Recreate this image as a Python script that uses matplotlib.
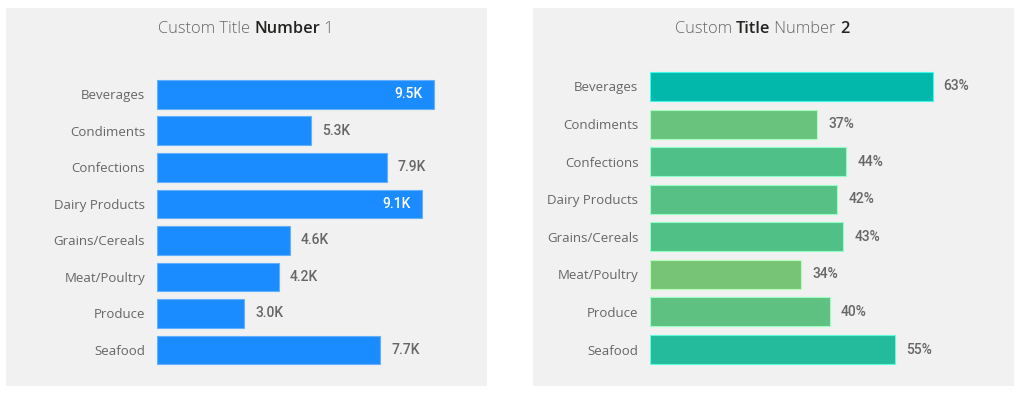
import matplotlib
matplotlib.use("Agg")
import matplotlib.pyplot as plt
from matplotlib.patches import Rectangle
from matplotlib.offsetbox import TextArea, HPacker, AnnotationBbox
from matplotlib.colors import LinearSegmentedColormap, Normalize

categorias = ["Beverages", "Condiments", "Confections", "Dairy Products",
              "Grains/Cereals", "Meat/Poultry", "Produce", "Seafood"]
ventas = [9532, 5298, 7906, 9112, 4577, 4199, 3002, 7681]
margen = [0.630, 0.372, 0.437, 0.417, 0.431, 0.337, 0.400, 0.546]
etiquetas_dentro = ["Beverages", "Dairy Products"]

FONDO = "#f1f1f1"
GRIS = "#666666"
OSCURO = "#252423"
AZUL = "#1a8cff"

W, H = 1024, 395
fig = plt.figure(figsize=(W / 100, H / 100), dpi=100)
fig.patch.set_facecolor("white")


def fx(px):
    return px / W


def fy(py):
    # py medido desde arriba
    return 1 - py / H


# paneles grises de fondo
for x0, x1 in [(6, 487), (533, 1014)]:
    fig.patches.append(Rectangle((fx(x0), fy(386)), fx(x1 - x0), (386 - 8) / H,
                                 transform=fig.transFigure, facecolor=FONDO,
                                 edgecolor="none", zorder=-10))


def titulo(partes, cx):
    cajas = [TextArea(t, textprops=dict(color=c, fontsize=11.8, family="Open Sans",
                                        weight=w)) for t, c, w in partes]
    caja = HPacker(children=cajas, pad=0, sep=0, align="baseline")
    ab = AnnotationBbox(caja, (fx(cx), fy(29)), xycoords="figure fraction",
                        frameon=False, box_alignment=(0.5, 0.5))
    fig.add_artist(ab)


titulo([("Custom Title ", GRIS, "light"), ("Number", OSCURO, "semibold"),
        (" 1", GRIS, "light")], 246)
titulo([("Custom ", GRIS, "light"), ("Title", OSCURO, "semibold"),
        (" Number ", GRIS, "light"), ("2", OSCURO, "semibold")], 762)


def preparar(ax):
    ax.set_facecolor("none")
    for s in ax.spines.values():
        s.set_visible(False)
    ax.set_xticks([])
    ax.set_yticks(range(len(categorias)))
    ax.set_yticklabels(categorias, color=GRIS, fontsize=9.5, family="Open Sans")
    ax.tick_params(axis="y", length=0, pad=8.5)
    ax.set_ylim(len(categorias) - 0.5, -0.5)


# ---- panel 1: ventas ----
px_k = 29.05
ax1 = fig.add_axes([fx(157), fy(368.3), fx(313), (368.3 - 76.0) / H])
preparar(ax1)
ax1.set_xlim(0, 313 / px_k * 1000)
ax1.barh(range(len(categorias)), ventas, height=0.785, color=AZUL,
         edgecolor="#62b0ff", linewidth=0.8)
for i, (cat, v) in enumerate(zip(categorias, ventas)):
    txt = f"{v / 1000:.1f}K"
    if cat in etiquetas_dentro:
        ax1.annotate(txt, (v, i), xytext=(-8, 0), textcoords="offset points",
                     ha="right", va="center", color="white", fontsize=10,
                     family="Roboto", weight="medium")
    else:
        ax1.annotate(txt, (v, i), xytext=(8, 0), textcoords="offset points",
                     ha="left", va="center", color=GRIS, fontsize=10,
                     family="Roboto", weight="medium")

# ---- panel 2: margen ----
px_pct = 448
ax2 = fig.add_axes([fx(650.3), fy(368.3), fx(350), (368.3 - 67.7) / H])
preparar(ax2)
ax2.set_xlim(0, 350 / px_pct)
cmap = LinearSegmentedColormap.from_list("verde", ["#77c477", "#01b8aa"])
norma = Normalize(min(margen), max(margen))
colores = [cmap(norma(m)) for m in margen]
bordes = [tuple(min(1, c + 0.25) for c in col[:3]) for col in colores]
ax2.barh(range(len(categorias)), margen, height=0.775, color=colores,
         edgecolor=bordes, linewidth=0.8)
for i, m in enumerate(margen):
    ax2.annotate(f"{m * 100:.0f}%", (m, i), xytext=(8, 0), textcoords="offset points",
                 ha="left", va="center", color=GRIS, fontsize=10,
                 family="Roboto", weight="medium")

fig.savefig("out.png", dpi=100, facecolor="white")
